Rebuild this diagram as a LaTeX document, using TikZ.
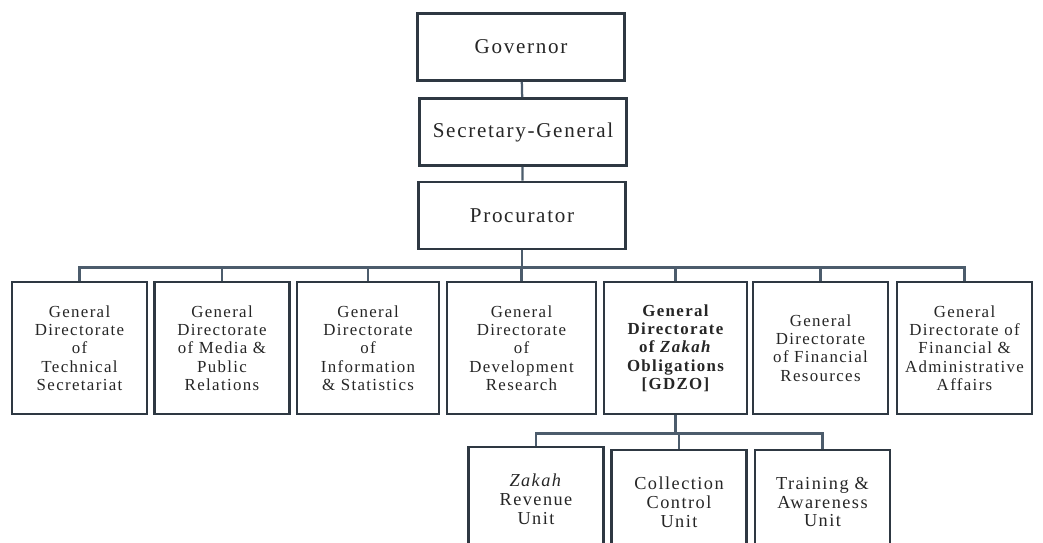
\documentclass[tikz,border=0pt]{standalone}
\usepackage{fontspec}
\setmainfont{Liberation Serif}[LetterSpace=8]
\usepackage{tikz}

\definecolor{boxline}{HTML}{2E3842}
\definecolor{linkline}{HTML}{4C5C6C}
\definecolor{boxtext}{HTML}{262626}

\begin{document}
\begin{tikzpicture}[x=0.025cm, y=-0.025cm,
  every node/.style={draw=boxline, line width=2pt, fill=white, text=boxtext, align=center, inner sep=2pt},
  topbox/.style={minimum width=5.175cm, minimum height=1.675cm, font=\fontsize{15}{17}\selectfont},
  dirbox/.style={minimum width=3.375cm, minimum height=3.3cm, font=\fontsize{12}{13}\selectfont},
  unitbox/.style={minimum width=3.375cm, minimum height=2.6cm, font=\fontsize{13}{13.5}\selectfont},
  link/.style={draw=linkline, line width=1.6pt}]
\clip (0,0) rectangle (1043,542);

\node[topbox] (gov) at (521,47) {Governor};
\node[topbox] (sec) at (523,132) {Secretary-General};
\node[topbox] (proc) at (522,215.5) {Procurator};

\node[dirbox] (d1) at (79.5,348) {General\\Directorate\\of\\Technical\\Secretariat};
\node[dirbox] (d2) at (222,348) {General\\Directorate\\of Media \&\\Public\\Relations};
\node[dirbox, minimum width=3.55cm] (d3) at (368,348) {General\\Directorate\\of\\Information\\\& Statistics};
\node[dirbox, minimum width=3.725cm] (d4) at (521.5,348) {General\\Directorate\\of\\Development\\Research};
\node[dirbox, minimum width=3.575cm, font=\fontsize{12}{13}\selectfont\bfseries] (d5) at (675.5,348) {General\\Directorate\\of \textit{Zakah}\\Obligations\\{[GDZO]}};
\node[dirbox] (d6) at (820.5,348) {General\\Directorate\\of Financial\\Resources};
\node[dirbox] (d7) at (964.5,348) {General\\Directorate of\\Financial \&\\Administrative\\Affairs};

\node[unitbox] (u1) at (536,499) {\textit{Zakah}\\Revenue\\Unit};
\node[unitbox] (u2) at (679,502) {Collection\\Control\\Unit};
\node[unitbox] (u3) at (822.5,502) {Training \&\\Awareness\\Unit};

\draw[link] (gov) -- (sec);
\draw[link] (sec) -- (proc);
\foreach \n in {d1,d2,d3,d4,d5,d6,d7}
  \draw[link] (proc.south) -- ++(0,17) -| (\n.north);
\foreach \n in {u1,u2,u3}
  \draw[link] (d5.south) -- ++(0,18) -| (\n.north);
\end{tikzpicture}
\end{document}
